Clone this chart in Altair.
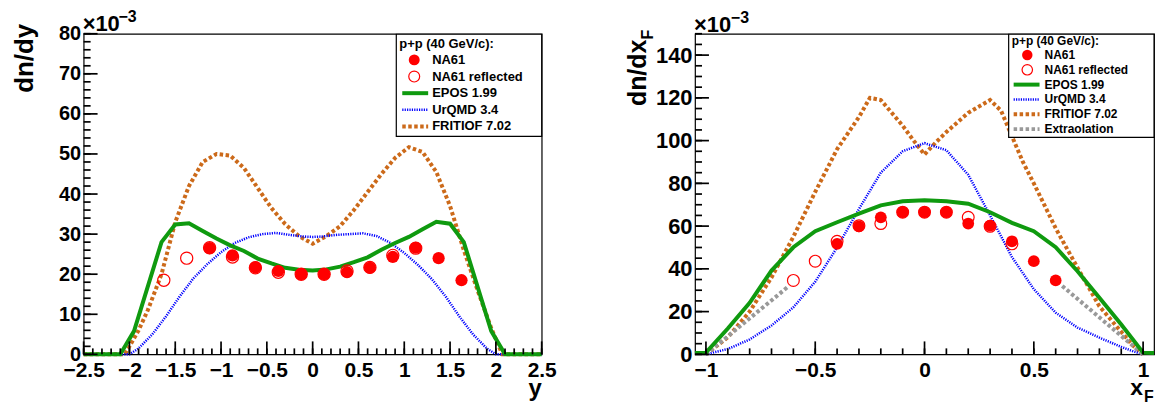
import altair as alt
import pandas as pd

FONT = "Liberation Sans"
RED = "#ff0000"
GREEN = "#0f9a0f"
BLUE = "#0000ff"
ORANGE = "#cc6a1a"
GREY = "#999999"

# ---------------- rapidity distribution, dn/dy (x 1e-3) ----------------
y_na61 = [-1.125, -0.875, -0.625, -0.375, -0.125, 0.125, 0.375, 0.625, 0.875, 1.125, 1.375, 1.625]
dndy_na61 = [26.5, 24.7, 21.7, 20.8, 20.0, 20.0, 20.5, 21.6, 24.3, 26.6, 24.0, 18.5]

y_epos = [-2.5, -2.1, -1.95, -1.65, -1.5, -1.35, -1.2, -1.05, -0.9, -0.75, -0.6, -0.45, -0.3, -0.15,
          0.0, 0.15, 0.3, 0.45, 0.6, 0.75, 0.9, 1.05, 1.2, 1.35, 1.5, 1.65, 1.95, 2.1, 2.5]
dndy_epos = [0, 0, 5.8, 28.0, 32.4, 32.7, 30.8, 28.9, 27.2, 25.8, 23.9, 22.7, 21.6, 21.1,
             20.9, 21.2, 21.9, 23.0, 24.2, 26.1, 27.8, 29.3, 31.2, 33.1, 32.6, 28.0, 5.8, 0, 0]

y_urqmd = [-2.5, -2.0, -1.9, -1.75, -1.6, -1.45, -1.3, -1.15, -1.0, -0.85, -0.7, -0.55, -0.4, -0.25,
           -0.1, 0.0, 0.1, 0.25, 0.4, 0.55, 0.7, 0.85, 1.0, 1.15, 1.3, 1.45, 1.6, 1.75, 1.9, 2.0, 2.5]
dndy_urqmd = [0, 0, 1.5, 5.0, 9.5, 14.5, 19.0, 22.5, 25.5, 27.8, 29.2, 30.0, 30.3, 29.8,
              29.4, 29.3, 29.4, 29.8, 30.0, 30.2, 29.5, 27.8, 25.3, 22.3, 18.8, 14.5, 9.5, 5.0, 1.5, 0, 0]

y_fritiof = [-2.5, -2.05, -1.9, -1.8, -1.65, -1.5, -1.35, -1.2, -1.05, -0.9, -0.75, -0.6, -0.45, -0.3,
             -0.15, 0.0, 0.15, 0.3, 0.45, 0.6, 0.75, 0.9, 1.05, 1.2, 1.35, 1.5, 1.65, 1.8, 1.95, 2.07, 2.5]
dndy_fritiof = [0, 0, 6.0, 11.0, 20.0, 33.0, 42.0, 48.0, 50.0, 49.6, 46.5, 41.5, 36.5, 32.5,
                29.5, 27.6, 29.5, 32.0, 36.0, 40.5, 45.0, 49.0, 51.7, 50.5, 45.5, 37.0, 26.0, 16.0, 6.5, 0, 0]

# ---------------- Feynman-x distribution, dn/dxF (x 1e-3) ----------------
xf_na61 = [-0.4, -0.3, -0.2, -0.1, 0.0, 0.1, 0.2, 0.3, 0.4, 0.5, 0.6]
dndxf_na61 = [51.7, 59.9, 64.1, 66.5, 66.5, 66.5, 61.2, 60.2, 52.9, 43.6, 34.6]

xf_epos = [-1.05, -1.0, -0.9, -0.8, -0.7, -0.6, -0.5, -0.4, -0.3, -0.2, -0.1, 0.0,
           0.1, 0.2, 0.3, 0.4, 0.5, 0.6, 0.7, 0.8, 0.9, 1.0, 1.05]
dndxf_epos = [0.6, 0.8, 12.1, 24.1, 39.2, 50.1, 57.6, 61.8, 65.8, 69.7, 71.6, 72.1,
              71.6, 70.5, 66.5, 61.5, 57.6, 50.1, 38.9, 26.5, 14.0, 0.8, 0.6]

xf_urqmd = [-1.0, -0.9, -0.85, -0.8, -0.7, -0.6, -0.5, -0.4, -0.3, -0.2, -0.1, 0.0,
            0.1, 0.2, 0.3, 0.4, 0.5, 0.6, 0.7, 0.8, 0.9, 0.95, 1.0]
dndxf_urqmd = [0, 2.5, 4.7, 7.0, 13.5, 22.0, 34.0, 50.0, 68.0, 85.0, 95.0, 98.8,
               95.5, 84.0, 65.0, 45.5, 30.5, 19.5, 12.5, 7.8, 3.5, 1.6, 0]

xf_fritiof = [-1.0, -0.9, -0.8, -0.7, -0.6, -0.5, -0.4, -0.3, -0.25, -0.2, -0.15, -0.1, -0.05, 0.0,
              0.05, 0.1, 0.15, 0.2, 0.25, 0.3, 0.35, 0.4, 0.45, 0.5, 0.6, 0.7, 0.8, 0.9, 0.95, 1.0]
dndxf_fritiof = [0, 8.0, 20.0, 36.0, 55.0, 76.0, 96.0, 111.0, 120.0, 119.0, 113.0, 107.0, 100.0, 93.5,
                 99.0, 104.0, 108.5, 113.0, 116.0, 119.0, 114.0, 102.0, 90.0, 80.0, 59.0, 40.5, 22.5, 10.5, 4.5, 0]

# straight-line extrapolation of the measured points towards |xF| = 1
xf_extra = [-1.0, -0.62, 0.63, 1.0]
dndxf_extra = [0, 32.0, 32.0, 0]
extra_side = ["left", "left", "right", "right"]

LEG_ENTRIES = ["NA61", "NA61 reflected", "EPOS 1.99", "UrQMD 3.4", "FRITIOF 7.02", "Extraolation"]

LINE_STYLES = {
    "EPOS 1.99": dict(color=GREEN, strokeWidth=4),
    "UrQMD 3.4": dict(color=BLUE, strokeWidth=2.5, strokeDash=[1.2, 1.2]),
    "FRITIOF 7.02": dict(color=ORANGE, strokeWidth=4, strokeDash=[3.5, 2.5]),
    "Extraolation": dict(color=GREY, strokeWidth=4, strokeDash=[3.5, 2.5]),
}

one = pd.DataFrame({"a": [0]})


def txt(s, x, y, size, align="left", baseline="middle", angle=0, weight="bold"):
    kw = dict(font=FONT, fontSize=size, fontWeight=weight, align=align, baseline=baseline, color="black")
    if angle:
        kw["angle"] = angle
    return alt.Chart(one).mark_text(**kw).encode(x=alt.value(x), y=alt.value(y), text=alt.value(s))


def panel(w, h, xdom, ydom, xvals, xminor, yvals, yminor, ylab_size, na_x, na_v,
          curves, leg, titles, bound):
    xs = alt.Scale(domain=xdom, nice=False, zero=False)
    ys = alt.Scale(domain=ydom, nice=False, zero=False)
    xa = alt.Axis(values=xvals, format="~g", ticks=False, domain=False, grid=False, title=None,
                  labelFont=FONT, labelFontWeight="bold", labelFontSize=21, labelColor="black",
                  labelPadding=5, labelFlush=False, labelOverlap=False)
    ya = alt.Axis(values=yvals, format="d", ticks=False, domain=False, grid=False, title=None,
                  labelFont=FONT, labelFontWeight="bold", labelFontSize=ylab_size, labelColor="black",
                  labelPadding=3, labelFlush=False, labelOverlap=False)
    X = alt.X("x:Q", scale=xs, axis=xa)
    Y = alt.Y("v:Q", scale=ys, axis=ya)

    # tick lengths converted to data units of the opposite axis
    per_px_y = (ydom[1] - ydom[0]) / h
    per_px_x = (xdom[1] - xdom[0]) / w

    layers = []

    # model curves
    for name, xv, vv, grp in curves:
        df = pd.DataFrame({"x": xv, "v": vv})
        df["idx"] = range(len(df))
        enc = dict(x=X, y=Y, order="idx:Q")
        if grp is not None:
            df["g"] = grp
            enc["detail"] = "g:N"
        layers.append(alt.Chart(df).mark_line(**LINE_STYLES[name]).encode(**enc))

    # measured points and their mirror images
    refl = pd.DataFrame({"x": [-v for v in na_x], "v": na_v})
    meas = pd.DataFrame({"x": na_x, "v": na_v})
    layers.append(alt.Chart(refl).mark_point(shape="circle", filled=False, color=RED, strokeWidth=1.2,
                                             size=leg["psize"], opacity=1).encode(x=X, y=Y))
    layers.append(alt.Chart(meas).mark_circle(color=RED, size=leg["psize"], opacity=1).encode(x=X, y=Y))

    # inner tick marks of the frame
    for vals, ln in ((xminor, 6), (xvals, 13)):
        df = pd.DataFrame({"x": vals, "v": [ydom[0]] * len(vals),
                           "v2": [ydom[0] + ln * per_px_y] * len(vals)})
        layers.append(alt.Chart(df).mark_rule(color="#000000", strokeWidth=1.7)
                      .encode(x=X, y=Y, y2="v2:Q"))
    for vals, ln in ((yminor, 7), (yvals, 14)):
        df = pd.DataFrame({"v": vals, "x": [xdom[0]] * len(vals),
                           "x2": [xdom[0] + ln * per_px_x] * len(vals)})
        layers.append(alt.Chart(df).mark_rule(color="#000000", strokeWidth=1.7)
                      .encode(y=Y, x=X, x2="x2:Q"))

    # legend box
    bx0, bx1, by0, by1 = leg["box"]
    layers.append(alt.Chart(one).mark_rect(fill="white", stroke="black", strokeWidth=1.2)
                  .encode(x=alt.value(bx0), x2=alt.value(bx1), y=alt.value(by0), y2=alt.value(by1)))
    fs = leg["font"]
    layers.append(txt("p+p (40 GeV/c):", leg["tx0"], leg["title_y"], fs))
    for i, name in enumerate(leg["entries"]):
        ry = leg["row0"] + i * leg["step"]
        layers.append(txt(name, leg["tx"], ry, fs))
        if name == "NA61":
            layers.append(alt.Chart(one).mark_circle(color=RED, size=leg["lsize"], opacity=1)
                          .encode(x=alt.value(leg["sx"]), y=alt.value(ry)))
        elif name == "NA61 reflected":
            layers.append(alt.Chart(one).mark_point(shape="circle", filled=False, color=RED, strokeWidth=1.2,
                                                    size=leg["lsize"], opacity=1)
                          .encode(x=alt.value(leg["sx"]), y=alt.value(ry)))
        else:
            layers.append(alt.Chart(one).mark_rule(**LINE_STYLES[name])
                          .encode(x=alt.value(leg["lx0"]), x2=alt.value(leg["lx1"]), y=alt.value(ry)))

    layers.extend(titles)

    # invisible corner that fixes the overall page extent
    bx, by = bound
    layers.append(alt.Chart(one).mark_rect(opacity=0)
                  .encode(x=alt.value(bx), x2=alt.value(bx + 1), y=alt.value(by), y2=alt.value(by + 1)))

    return alt.layer(*layers).properties(width=w, height=h)


def frange(a, b, step):
    n = int(round((b - a) / step))
    return [round(a + i * step, 4) for i in range(n + 1)]


W1, W2, H = 460, 461, 322

left = panel(
    W1, H, [-2.5, 2.5], [0, 80],
    frange(-2.5, 2.5, 0.5), frange(-2.5, 2.5, 0.1),
    frange(0, 80, 10), frange(0, 80, 2), 20,
    y_na61, dndy_na61,
    [("FRITIOF 7.02", y_fritiof, dndy_fritiof, None),
     ("UrQMD 3.4", y_urqmd, dndy_urqmd, None),
     ("EPOS 1.99", y_epos, dndy_epos, None)],
    dict(box=[314, 460, 0.5, 103], font=13, tx0=317, title_y=10, tx=350, row0=26.3, step=16.7,
         sx=332, lx0=320, lx1=346, psize=150, lsize=120, entries=LEG_ENTRIES[:5]),
    [txt("dn/dy", -51, -10, 26, align="right", baseline="alphabetic", angle=270),
     txt("y", 460, 364, 24, align="right", baseline="alphabetic"),
     txt("\u00d710", -1, -3, 22, baseline="alphabetic"),
     txt("\u22123", 35, -12, 16, baseline="alphabetic")],
    (-83, -32),
)

right = panel(
    W2, H, [-1.05, 1.05], [0, 150],
    frange(-1.0, 1.0, 0.5), frange(-1.0, 1.0, 0.1),
    frange(0, 140, 20), frange(0, 150, 5), 22,
    xf_na61, dndxf_na61,
    [("FRITIOF 7.02", xf_fritiof, dndxf_fritiof, None),
     ("UrQMD 3.4", xf_urqmd, dndxf_urqmd, None),
     ("Extraolation", xf_extra, dndxf_extra, extra_side),
     ("EPOS 1.99", xf_epos, dndxf_epos, None)],
    dict(box=[315, 461, 0.5, 104], font=12, tx0=318, title_y=7, tx=351, row0=21.3, step=14.9,
         sx=333.7, lx0=320, lx1=346, psize=140, lsize=110, entries=LEG_ENTRIES),
    [txt("dn/dx", -49, 6, 25, align="right", baseline="alphabetic", angle=270),
     txt("F", -42, -4, 16, align="right", baseline="alphabetic", angle=270),
     txt("x", 450, 363, 23, align="right", baseline="alphabetic"),
     txt("F", 451, 370, 16, baseline="alphabetic"),
     txt("\u00d710", -1, -2, 22, baseline="alphabetic"),
     txt("\u22123", 36, -11, 16, baseline="alphabetic")],
    (465, 373),
)

chart = (
    alt.hconcat(left, right, spacing=154, bounds="flush")
    .properties(padding=0, background="white")
    .configure_view(stroke="black", strokeWidth=1.2)
)

chart.save("out.html", embed_options={"renderer": "svg", "actions": False})
